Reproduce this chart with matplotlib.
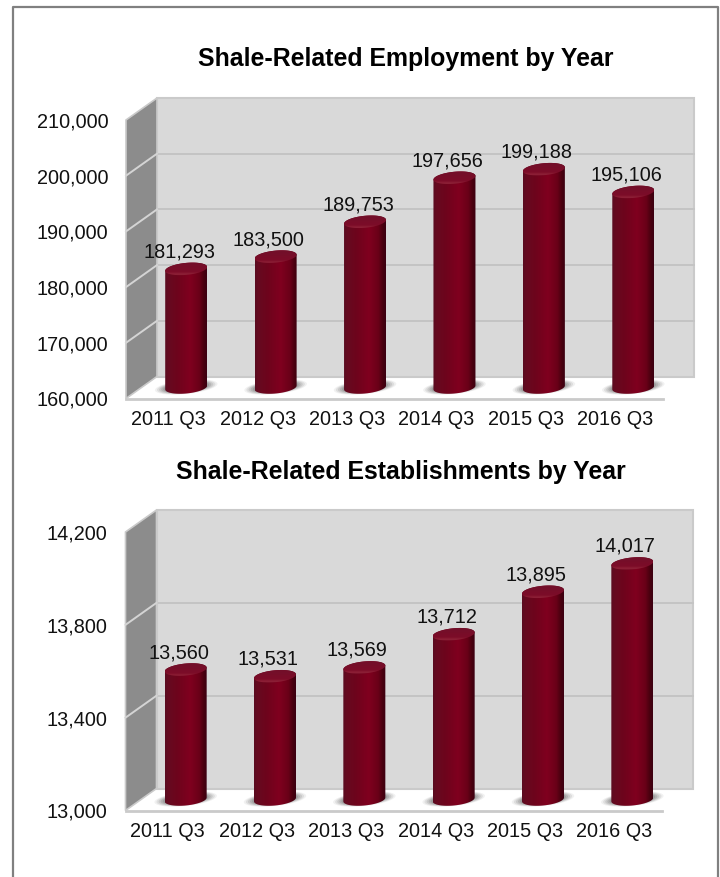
import numpy as np
import matplotlib
matplotlib.use('Agg')
import matplotlib.pyplot as plt
from matplotlib.colors import LinearSegmentedColormap
from matplotlib.patches import Polygon
from matplotlib.transforms import Affine2D
from matplotlib.ticker import FuncFormatter

plt.rcParams['font.family'] = ['Liberation Sans', 'DejaVu Sans']

# data
quarters = ['2011 Q3', '2012 Q3', '2013 Q3', '2014 Q3', '2015 Q3', '2016 Q3']
employment = [181293, 183500, 189753, 197656, 199188, 195106]
establishments = [13560, 13531, 13569, 13712, 13895, 14017]
employment_ticks = [160000, 170000, 180000, 190000, 200000, 210000]
establishment_ticks = [13000, 13400, 13800, 14200]

W, H = 720, 877
DEPTH_X, DEPTH_Y = 31, 22
BAR_W = 42
CAP_H = 6
TEXT_SIZE = 14.3

body_cmap = LinearSegmentedColormap.from_list('body', [
    (0.0, '#5a0c20'), (0.08, '#660a20'), (0.3, '#6e041c'), (0.6, '#80001f'),
    (0.82, '#6a0018'), (0.93, '#48000f'), (1.0, '#3c0012')])
cap_cmap = LinearSegmentedColormap.from_list('cap', [
    (0.0, '#70102a'), (0.7, '#7c0c28'), (0.85, '#8f2238'), (1.0, '#6e0a22')])

fig = plt.figure(figsize=(W / 100, H / 100), dpi=100)
fig.patch.set_facecolor('white')

# outer frame, runs off the bottom of the picture
fig.add_artist(plt.Line2D([12.5 / W, 12.5 / W, 718 / W, 718 / W],
                          [0, 1 - 6.5 / H, 1 - 6.5 / H, 0], color='#808080', lw=1.6))


def draw_chart(left, right, top, bottom, title, title_x, title_y, values, ticks):
    ax = fig.add_axes([left / W, 1 - bottom / H, (right - left) / W, (bottom - top) / H])
    ax.set_xlim(-0.5, 5.5)
    ax.set_ylim(ticks[0], ticks[-1])
    ax.set_autoscale_on(False)
    for s in ax.spines.values():
        s.set_visible(False)
    ax.patch.set_visible(False)
    w, h = right - left, bottom - top
    # pixels inside the axes
    px = Affine2D().scale(1 / w, 1 / h) + ax.transAxes
    per_px_x = 6 / w
    per_px_y = (ticks[-1] - ticks[0]) / h

    # floor and walls
    edge = '#cacaca'
    ax.add_patch(Polygon([(0, 0), (DEPTH_X, DEPTH_Y), (w + DEPTH_X, DEPTH_Y), (w, 0)],
                         closed=True, fc='white', ec='none', transform=px, clip_on=False, zorder=1))
    ax.add_patch(Polygon([(DEPTH_X, DEPTH_Y), (DEPTH_X, h + DEPTH_Y), (w + DEPTH_X, h + DEPTH_Y),
                          (w + DEPTH_X, DEPTH_Y)], closed=True, fc='#d9d9d9', ec=edge, lw=1.5,
                         transform=px, clip_on=False, zorder=1))
    ax.add_patch(Polygon([(0, 0), (0, h), (DEPTH_X, h + DEPTH_Y), (DEPTH_X, DEPTH_Y)],
                         closed=True, fc='#8c8c8c', ec=edge, lw=1.2, transform=px, clip_on=False, zorder=1.1))
    ax.plot([0, w], [0, 0], color=edge, lw=2, transform=px, clip_on=False, zorder=1.2)

    # gridlines on the back wall and the side wall
    for t in ticks[1:-1]:
        yp = (t - ticks[0]) / per_px_y
        ax.plot([DEPTH_X, w + DEPTH_X], [yp + DEPTH_Y] * 2, color='#c4c4c4', lw=1.4,
                transform=px, clip_on=False, zorder=1.2)
        ax.plot([0, DEPTH_X], [yp, yp + DEPTH_Y], color='#d4d4d4', lw=1.4,
                transform=px, clip_on=False, zorder=1.2)

    # bars sit halfway into the depth of the floor
    mid = ax.transData + Affine2D().translate(DEPTH_X / 2, DEPTH_Y / 2)
    half_w = BAR_W / 2 * per_px_x
    t_lo = np.linspace(np.pi, 2 * np.pi, 40)
    t_hi = np.linspace(0, np.pi, 40)
    t_all = np.linspace(0, 2 * np.pi, 80)
    tilt = 0.09

    for i, v in enumerate(values):
        # shadow on the floor
        for k, a in zip(np.linspace(1.0, 0.6, 7), [0.08, 0.12, 0.15, 0.18, 0.22, 0.25, 0.3]):
            xs = i + 0.35 * k * np.cos(t_all)
            ys = ticks[0] + (0.5 + 7 * k * np.sin(t_all)) * per_px_y
            ys += 0.1 * (xs - i) / per_px_x * per_px_y
            ax.fill(xs, ys, color='#555555', alpha=a, lw=0, transform=mid, clip_on=False, zorder=2)

        # body of the cylinder, shaded left to right
        bx = np.r_[i + half_w * np.cos(t_lo), i + half_w * np.cos(t_hi)]
        by = np.r_[ticks[0] + CAP_H * np.sin(t_lo) * per_px_y,
                   v + CAP_H * np.sin(t_hi) * per_px_y]
        by += tilt * (bx - i) / per_px_x * per_px_y
        body = Polygon(np.c_[bx, by], closed=True, fc='none', ec='none', transform=mid, clip_on=False)
        ax.add_patch(body)
        im = ax.imshow(np.linspace(0, 1, 128).reshape(1, -1), cmap=body_cmap, aspect='auto',
                       extent=(i - half_w, i + half_w, ticks[0] - 10 * per_px_y, v + 10 * per_px_y),
                       transform=mid, zorder=3)
        im.set_clip_path(body)

        # top cap
        cx = i + half_w * np.cos(t_all)
        cy = v + CAP_H * np.sin(t_all) * per_px_y + tilt * (cx - i) / per_px_x * per_px_y
        cap = Polygon(np.c_[cx, cy], closed=True, fc='none', ec='none', transform=mid, clip_on=False)
        ax.add_patch(cap)
        im2 = ax.imshow(np.linspace(0, 1, 32).reshape(-1, 1), cmap=cap_cmap, aspect='auto', origin='upper',
                        extent=(i - half_w, i + half_w, v - 8 * per_px_y, v + 8 * per_px_y),
                        transform=mid, zorder=3.1)
        im2.set_clip_path(cap)

        # value label
        ax.annotate(f'{v:,}', (i, v), xytext=(8.5 * 0.72, 28 * 0.72), textcoords='offset points',
                    ha='center', va='center', fontsize=TEXT_SIZE, color='#111111',
                    annotation_clip=False, zorder=5)

    ax.set_xticks(range(6))
    ax.set_xticklabels(quarters, fontsize=TEXT_SIZE, color='#111111')
    ax.set_yticks(ticks)
    ax.yaxis.set_major_formatter(FuncFormatter(lambda val, pos: f'{int(val):,}'))
    ax.tick_params(axis='y', length=0, pad=12.8, labelsize=TEXT_SIZE, labelcolor='#111111')
    ax.tick_params(axis='x', length=0, pad=8.5)
    for lab in ax.get_xticklabels():
        lab.set_transform(lab.get_transform() + Affine2D().translate(-2.5, 0))
    ax.set_xlim(-0.5, 5.5)
    ax.set_ylim(ticks[0], ticks[-1])

    fig.text(title_x / W, 1 - title_y / H, title, ha='center', va='center',
             fontsize=17.9, fontweight='bold', color='black')


draw_chart(126, 662.5, 120, 398.5, 'Shale-Related Employment by Year', 405.5, 59, employment, employment_ticks)
draw_chart(125.5, 661.5, 532, 810.5, 'Shale-Related Establishments by Year', 401, 472, establishments, establishment_ticks)

fig.savefig('out.png', dpi=100)
